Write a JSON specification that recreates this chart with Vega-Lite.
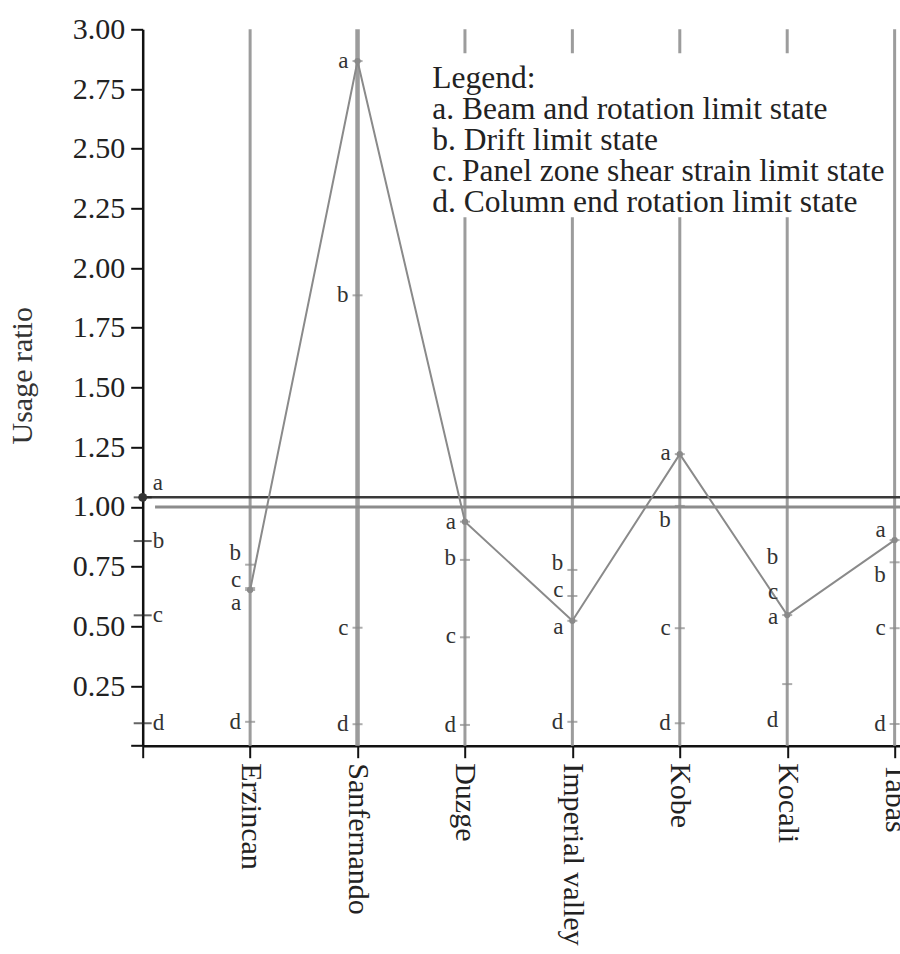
{
  "$schema": "https://vega.github.io/schema/vega-lite/v6.json",
  "width": 757.3,
  "height": 716.4,
  "autosize": {"type": "none"},
  "padding": {"left": 142.7, "top": 29.3, "right": 0, "bottom": 208.3},
  "background": "white",
  "config": {
    "view": {"stroke": null},
    "font": "Liberation Serif"
  },
  "datasets": {
    "usage": [
      {"site": "", "pos": 0, "state": "a", "value": 1.04, "labelAt": 1.10},
      {"site": "", "pos": 0, "state": "b", "value": 0.857, "labelAt": 0.857},
      {"site": "", "pos": 0, "state": "c", "value": 0.546, "labelAt": 0.546},
      {"site": "", "pos": 0, "state": "d", "value": 0.094, "labelAt": 0.094},
      {"site": "Erzincan", "pos": 1, "state": "a", "value": 0.652, "labelAt": 0.598},
      {"site": "Erzincan", "pos": 1, "state": "b", "value": 0.758, "labelAt": 0.805},
      {"site": "Erzincan", "pos": 1, "state": "c", "value": 0.66, "labelAt": 0.695},
      {"site": "Erzincan", "pos": 1, "state": "d", "value": 0.10, "labelAt": 0.10},
      {"site": "Sanfernando", "pos": 2, "state": "a", "value": 2.867, "labelAt": 2.867},
      {"site": "Sanfernando", "pos": 2, "state": "b", "value": 1.886, "labelAt": 1.886},
      {"site": "Sanfernando", "pos": 2, "state": "c", "value": 0.494, "labelAt": 0.494},
      {"site": "Sanfernando", "pos": 2, "state": "d", "value": 0.09, "labelAt": 0.09},
      {"site": "Duzge", "pos": 3, "state": "a", "value": 0.938, "labelAt": 0.938},
      {"site": "Duzge", "pos": 3, "state": "b", "value": 0.778, "labelAt": 0.785},
      {"site": "Duzge", "pos": 3, "state": "c", "value": 0.454, "labelAt": 0.46},
      {"site": "Duzge", "pos": 3, "state": "d", "value": 0.087, "labelAt": 0.087},
      {"site": "Imperial valley", "pos": 4, "state": "a", "value": 0.523, "labelAt": 0.497},
      {"site": "Imperial valley", "pos": 4, "state": "b", "value": 0.736, "labelAt": 0.765},
      {"site": "Imperial valley", "pos": 4, "state": "c", "value": 0.627, "labelAt": 0.652},
      {"site": "Imperial valley", "pos": 4, "state": "d", "value": 0.10, "labelAt": 0.099},
      {"site": "Kobe", "pos": 5, "state": "a", "value": 1.221, "labelAt": 1.226},
      {"site": "Kobe", "pos": 5, "state": "b", "value": 1.004, "labelAt": 0.945},
      {"site": "Kobe", "pos": 5, "state": "c", "value": 0.492, "labelAt": 0.492},
      {"site": "Kobe", "pos": 5, "state": "d", "value": 0.094, "labelAt": 0.094},
      {"site": "Kocali", "pos": 6, "state": "a", "value": 0.547, "labelAt": 0.54},
      {"site": "Kocali", "pos": 6, "state": "b", "value": null, "labelAt": 0.791},
      {"site": "Kocali", "pos": 6, "state": "c", "value": null, "labelAt": 0.645},
      {"site": "Kocali", "pos": 6, "state": "d", "value": 0.258, "labelAt": 0.107},
      {"site": "Tabas", "pos": 7, "state": "a", "value": 0.861, "labelAt": 0.903},
      {"site": "Tabas", "pos": 7, "state": "b", "value": 0.768, "labelAt": 0.715},
      {"site": "Tabas", "pos": 7, "state": "c", "value": 0.492, "labelAt": 0.492},
      {"site": "Tabas", "pos": 7, "state": "d", "value": 0.091, "labelAt": 0.091}
    ],
    "limits": [
      {"limit": "reference", "level": 1.04, "from": 0, "to": 7.05},
      {"limit": "unity", "level": 1.0, "from": 0.115, "to": 7.05}
    ],
    "legend": [
      {"x0": 2.63, "x1": 6.96, "y0": 2.213, "y1": 2.90, "tx": 2.695, "ty": 2.754}
    ]
  },
  "data": {"name": "usage"},
  "encoding": {
    "y": {
      "type": "quantitative",
      "scale": {"domain": [0, 3], "nice": false},
      "axis": {
        "title": "Usage ratio",
        "grid": false,
        "values": [0, 0.25, 0.5, 0.75, 1, 1.25, 1.5, 1.75, 2, 2.25, 2.5, 2.75, 3],
        "labelExpr": "datum.value == 0 ? '' : format(datum.value, '.2f')",
        "labelFont": "Liberation Serif",
        "labelFontSize": 30,
        "labelColor": "#222",
        "labelPadding": 6,
        "labelFlush": false,
        "labelOverlap": false,
        "tickSize": 12,
        "tickWidth": 2,
        "tickColor": "#111",
        "domainColor": "#111",
        "domainWidth": 2.5,
        "titleFont": "Liberation Serif",
        "titleFontSize": 30,
        "titleFontWeight": "normal",
        "titleColor": "#333",
        "titleX": -105,
        "titleY": 346
      }
    }
  },
  "layer": [
    {
      "transform": [{"filter": "datum.state == 'a' && datum.pos > 0"}],
      "mark": {"type": "rule", "color": "#9c9c9c"},
      "encoding": {
        "x": {
          "field": "pos",
          "type": "quantitative",
          "scale": {"domain": [0, 7.05], "nice": false, "zero": false},
          "axis": {
            "title": null,
            "grid": false,
            "values": [0, 1, 2, 3, 4, 5, 6, 7],
            "labelExpr": "['', 'Erzincan', 'Sanfernando', 'Duzge', 'Imperial valley', 'Kobe', 'Kocali', 'Tabas'][datum.value]",
            "labelAngle": 90,
            "labelFont": "Liberation Serif",
            "labelFontSize": 30,
            "labelColor": "#222",
            "labelPadding": 5,
            "labelLimit": 0,
            "labelFlush": false,
            "labelOverlap": false,
            "tickSize": 12,
            "tickWidth": 2,
            "tickColor": "#111",
            "domainColor": "#111",
            "domainWidth": 2.5
          }
        },
        "y": {"datum": 0},
        "y2": {"datum": 3},
        "strokeWidth": {"condition": {"test": "datum.site == 'Sanfernando'", "value": 4.5}, "value": 3}
      }
    },
    {
      "data": {"name": "limits"},
      "mark": {"type": "rule"},
      "encoding": {
        "x": {"field": "from", "type": "quantitative"},
        "x2": {"field": "to"},
        "y": {"field": "level", "type": "quantitative"},
        "color": {"condition": {"test": "datum.limit == 'reference'", "value": "#3a3a3a"}, "value": "#8c8c8c"},
        "strokeWidth": {"condition": {"test": "datum.limit == 'reference'", "value": 2.5}, "value": 3}
      }
    },
    {
      "transform": [{"filter": "datum.state == 'a' && datum.pos > 0"}],
      "mark": {"type": "line", "color": "#8a8a8a", "strokeWidth": 2},
      "encoding": {
        "x": {"field": "pos", "type": "quantitative"},
        "y": {"field": "value", "type": "quantitative"}
      }
    },
    {
      "transform": [{"filter": "datum.value != null"}],
      "mark": {"type": "tick", "orient": "horizontal", "thickness": 2},
      "encoding": {
        "x": {"field": "pos", "type": "quantitative"},
        "y": {"field": "value", "type": "quantitative"},
        "size": {"condition": {"test": "datum.pos == 0", "value": 18}, "value": 10},
        "color": {"condition": {"test": "datum.pos == 0", "value": "#222"}, "value": "#8a8a8a"}
      }
    },
    {
      "transform": [{"filter": "datum.state == 'a'"}],
      "mark": {"type": "point", "filled": true, "opacity": 1},
      "encoding": {
        "x": {"field": "pos", "type": "quantitative"},
        "y": {"field": "value", "type": "quantitative"},
        "size": {"condition": {"test": "datum.pos == 0", "value": 80}, "value": 40},
        "color": {"condition": {"test": "datum.pos == 0", "value": "#333"}, "value": "#8a8a8a"}
      }
    },
    {
      "transform": [{"filter": "datum.pos == 0"}],
      "mark": {"type": "text", "align": "left", "baseline": "middle", "dx": 10, "fontSize": 23, "font": "Liberation Serif", "color": "#333"},
      "encoding": {
        "x": {"field": "pos", "type": "quantitative"},
        "y": {"field": "labelAt", "type": "quantitative"},
        "text": {"field": "state"}
      }
    },
    {
      "transform": [{"filter": "datum.pos > 0"}],
      "mark": {"type": "text", "align": "right", "baseline": "middle", "dx": -9, "fontSize": 23, "font": "Liberation Serif", "color": "#333"},
      "encoding": {
        "x": {"field": "pos", "type": "quantitative"},
        "y": {"field": "labelAt", "type": "quantitative"},
        "text": {"field": "state"}
      }
    },
    {
      "data": {"name": "legend"},
      "mark": {"type": "rect", "color": "white"},
      "encoding": {
        "x": {"field": "x0", "type": "quantitative"},
        "x2": {"field": "x1"},
        "y": {"field": "y0", "type": "quantitative"},
        "y2": {"field": "y1"}
      }
    },
    {
      "data": {"name": "legend"},
      "mark": {"type": "text", "align": "left", "baseline": "alphabetic", "fontSize": 31.5, "lineHeight": 31, "font": "Liberation Serif", "color": "#222"},
      "encoding": {
        "x": {"field": "tx", "type": "quantitative"},
        "y": {"field": "ty", "type": "quantitative"},
        "text": {"value": ["Legend:", "a. Beam and rotation limit state", "b. Drift limit state", "c. Panel zone shear strain limit state", "d. Column end rotation limit state"]}
      }
    }
  ]
}
